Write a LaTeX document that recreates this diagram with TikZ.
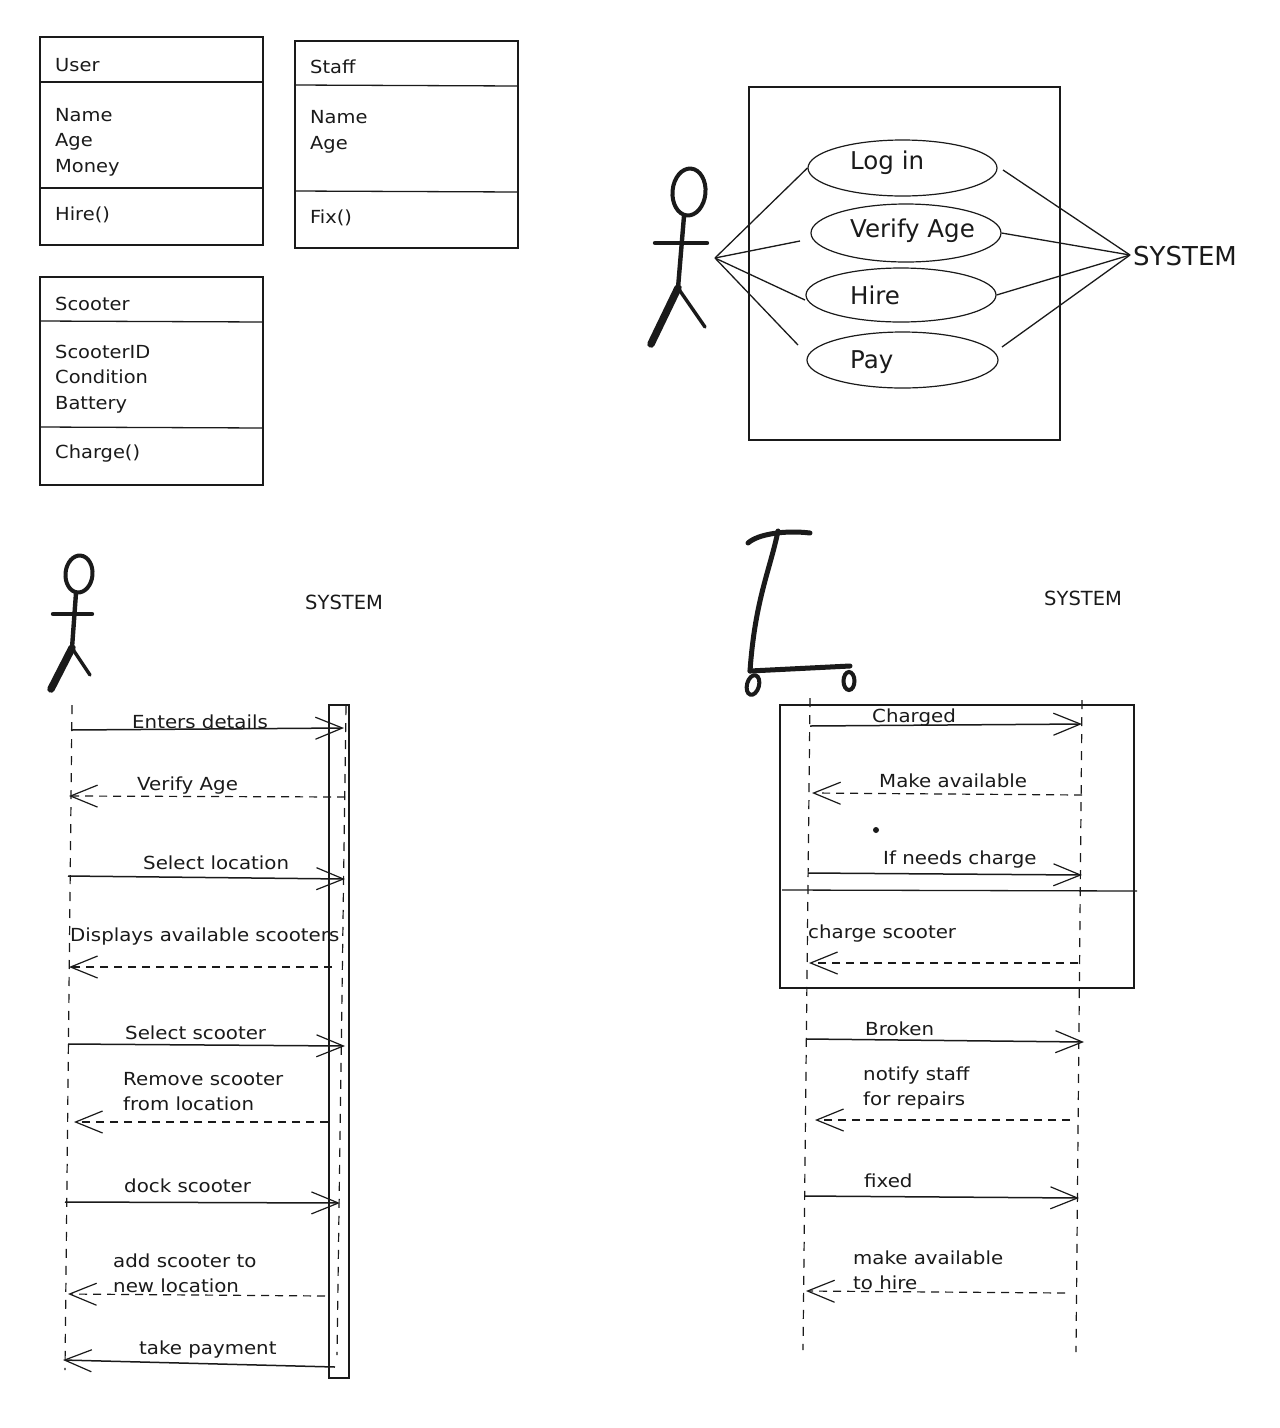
\documentclass[tikz,border=0pt]{standalone}
\usepackage{fontspec}
\setmainfont{DejaVu Sans}
\newfontfamily\lblfont[FakeStretch=1.1]{DejaVu Sans}
\newfontfamily\boxfont[FakeStretch=1.08]{DejaVu Sans}
\usetikzlibrary{shapes.geometric,arrows.meta}
\definecolor{ink}{HTML}{1A1A1A}
\newcommand{\fsz}[2]{\fontsize{#1}{#2}\selectfont}
\tikzset{
  frame/.style={draw=ink,line width=1.1pt,inner sep=0pt,minimum width=#1},
  divider/.style={draw=ink,line width=1.3pt},
  usecase/.style={draw=ink,line width=1.2pt,ellipse,inner sep=0pt},
  assoc/.style={draw=ink,line width=1.3pt},
  stick/.style={draw=ink,line width=4.4pt,line cap=round,line join=round},
  stickthin/.style={draw=ink,line width=3.4pt,line cap=round},
  stickthick/.style={draw=ink,line width=7.5pt,line cap=round},
  lifeline/.style={draw=ink,line width=1.2pt,dash pattern=on 9pt off 8pt},
  msg/.style={draw=ink,line width=1.5pt,-{Straight Barb[length=27pt,width=22pt,line width=1.2pt]}},
  reply/.style={draw=ink,line width=1.2pt,-{Straight Barb[length=27pt,width=22pt,line width=1.2pt]},dash pattern=on 8pt off 6pt},
  lbl/.style={anchor=west,inner sep=0pt,text=ink,font=\lblfont\fsz{18}{25},align=left},
  boxtxt/.style={anchor=west,inner sep=0pt,text=ink,font=\boxfont\fsz{18}{25.5},align=left},
  uctxt/.style={anchor=west,inner sep=0pt,text=ink,font=\fsz{24.5}{28}},
  systxt/.style={inner sep=0pt,text=ink,font=\fsz{19.5}{22}},
  headshape/.style={draw=ink,line width=4pt,ellipse,inner sep=0pt},
}
\begin{document}
\begin{tikzpicture}[x=1pt,y=-1pt]
\useasboundingbox (0,0) rectangle (1280,1428);
\fill[white] (0,0) rectangle (1280,1428);

% --- class boxes
\node[frame=223pt,minimum height=208pt] (user) at (151.5,141) {};
\draw[divider] (user.west |- 0,82) -- (user.east |- 0,82);
\draw[divider] (user.west |- 0,188) -- (user.east |- 0,188);
\node[boxtxt] (userT) at (55,65) {User};
\node[boxtxt] (userA) at (55,142) {Name\\Age\\Money};
\node[boxtxt] (userM) at (55,215) {Hire()};

\node[frame=223pt,minimum height=207pt] (staff) at (406.5,144.5) {};
\draw[divider] (staff.west |- 0,85) -- (staff.east |- 0,86);
\draw[divider] (staff.west |- 0,191) -- (staff.east |- 0,192);
\node[boxtxt] (staffT) at (310,67) {Staff};
\node[boxtxt] (staffA) at (310,132) {Name\\Age};
\node[boxtxt] (staffM) at (310,218) {Fix()};

\node[frame=223pt,minimum height=208pt] (scoot) at (151.5,381) {};
\draw[divider] (scoot.west |- 0,321) -- (scoot.east |- 0,322);
\draw[divider] (scoot.west |- 0,427) -- (scoot.east |- 0,428);
\node[boxtxt] (scootT) at (55,304) {Scooter};
\node[boxtxt] (scootA) at (55,379) {ScooterID\\Condition\\Battery};
\node[boxtxt] (scootM) at (55,454) {Charge()};

% --- use case diagram
\node[frame=311pt,minimum height=353pt] (sysbox) at (904.5,263.5) {};
\node[usecase,minimum width=189pt,minimum height=56pt] (login) at (902.5,168) {};
\node[usecase,minimum width=190pt,minimum height=58pt] (verify) at (906,233) {};
\node[usecase,minimum width=190pt,minimum height=54pt] (hire) at (901,295) {};
\node[usecase,minimum width=191pt,minimum height=56pt] (pay) at (902.5,360) {};
\node[uctxt] (loginT) at (850,163) {Log in};
\node[uctxt] (verifyT) at (850,231) {Verify Age};
\node[uctxt] (hireT) at (850,295) {Hire};
\node[uctxt] (payT) at (850,362) {Pay};
\node[inner sep=0pt,text=ink,font=\fsz{26}{30},anchor=west] (sysR) at (1133,256) {SYSTEM};

\coordinate (ucA) at (715,258);
\coordinate (ucS) at (1130,255);
\coordinate (verifyL) at (800,241);
\coordinate (hireL) at (805,300);
\coordinate (payL) at (798,345);
\coordinate (loginR) at (1003,170);
\coordinate (payR) at (1002,347);
\draw[assoc] (ucA) -- (login.west);
\draw[assoc] (ucA) -- (verifyL);
\draw[assoc] (ucA) -- (hireL);
\draw[assoc] (ucA) -- (payL);
\draw[assoc] (loginR) -- (ucS);
\draw[assoc] (verify.east) -- (ucS);
\draw[assoc] (hire.east) -- (ucS);
\draw[assoc] (payR) -- (ucS);

% actor (use case)
\node[headshape,minimum width=33pt,minimum height=47pt,rotate=-5] (h1) at (689,192) {};
\coordinate (h1n) at (684,216);
\coordinate (h1hip) at (678,288);
\coordinate (h1al) at (655,243);
\coordinate (h1ar) at (707,243);
\coordinate (h1ll) at (651,344);
\coordinate (h1lr) at (705,327);
\draw[stick] (h1n) -- (h1hip);
\draw[stick] (h1al) -- (h1ar);
\draw[stickthin] (h1hip) -- (h1lr);
\draw[stickthick] (h1hip) -- (h1ll);

% --- sequence 1
\node[headshape,minimum width=27pt,minimum height=37pt,rotate=-5] (h2) at (79,574) {};
\coordinate (h2n) at (76,593);
\coordinate (h2hip) at (72,648);
\coordinate (h2al) at (53,614);
\coordinate (h2ar) at (92,614);
\coordinate (h2ll) at (51,689);
\coordinate (h2lr) at (90,675);
\draw[stick] (h2n) -- (h2hip);
\draw[stick] (h2al) -- (h2ar);
\draw[stickthin] (h2hip) -- (h2lr);
\draw[stickthick] (h2hip) -- (h2ll);
\node[systxt,anchor=west] (sys1) at (305,602) {SYSTEM};

\node[frame=20pt,minimum height=673pt] (act) at (339,1041.5) {};
\coordinate (lAt) at (72,705);
\coordinate (lAb) at (65,1370);
\coordinate (lBt) at (346,706);
\coordinate (lBb) at (337,1355);
\draw[lifeline] (lAt) -- (lAb);
\draw[lifeline] (lBt) -- (lBb);

\coordinate (a1s) at (71,730);   \coordinate (a1e) at (344,728);
\coordinate (a2s) at (345,797);  \coordinate (a2e) at (69,796);
\coordinate (a3s) at (68,876);   \coordinate (a3e) at (345,879);
\coordinate (a4s) at (332,967);  \coordinate (a4e) at (69,967);
\coordinate (a5s) at (68,1044);  \coordinate (a5e) at (345,1046);
\coordinate (a6s) at (328,1122); \coordinate (a6e) at (74,1122);
\coordinate (a7s) at (65,1202);  \coordinate (a7e) at (340,1203);
\coordinate (a8s) at (325,1296); \coordinate (a8e) at (68,1294);
\coordinate (a9s) at (335,1367); \coordinate (a9e) at (63,1360);
\draw[msg] (a1s) -- (a1e);
\draw[reply] (a2s) -- (a2e);
\draw[msg] (a3s) -- (a3e);
\draw[reply] (a4s) -- (a4e);
\draw[msg] (a5s) -- (a5e);
\draw[reply] (a6s) -- (a6e);
\draw[msg] (a7s) -- (a7e);
\draw[reply] (a8s) -- (a8e);
\draw[msg] (a9s) -- (a9e);

\node[lbl] (t1) at (132,722) {Enters details};
\node[lbl] (t2) at (137,786) {Verify Age};
\node[lbl] (t3) at (143,863) {Select location};
\node[lbl] (t4) at (70,937) {Displays available scooters};
\node[lbl] (t5) at (125,1033) {Select scooter};
\node[lbl] (t6) at (123,1092) {Remove scooter\\from location};
\node[lbl] (t7) at (124,1186) {dock scooter};
\node[lbl] (t8) at (113,1273) {add scooter to\\new location};
\node[lbl] (t9) at (139,1350) {take payment};

% --- sequence 2
\coordinate (sk1) at (748,543);
\coordinate (sk2) at (778,531);
\coordinate (sk3) at (810,533);
\coordinate (sk4) at (750,671);
\coordinate (sk5) at (850,666);
\draw[stick,line width=5pt] (sk1) .. controls (758,534) and (785,530) .. (sk3);
\draw[stick,line width=5pt] (sk2) .. controls (770,570) and (755,600) .. (sk4);
\draw[stick,line width=5pt] (sk4) -- (sk5);
\node[headshape,minimum width=12pt,minimum height=20pt,rotate=-15] (wh1) at (753,685) {};
\node[headshape,minimum width=11pt,minimum height=18pt] (wh2) at (849,681) {};
\node[systxt,anchor=west] (sys2) at (1044,598) {SYSTEM};

\node[frame=354pt,minimum height=283pt] (frag) at (957,846.5) {};
\coordinate (fragL) at (782,890);
\coordinate (fragR) at (1137,891);
\draw[divider] (fragL) -- (fragR);
\coordinate (lCt) at (810,698);
\coordinate (lCb) at (803,1350);
\coordinate (lDt) at (1082,700);
\coordinate (lDb) at (1076,1352);
\draw[lifeline] (lCt) -- (lCb);
\draw[lifeline] (lDt) -- (lDb);

\coordinate (b1s) at (810,726);   \coordinate (b1e) at (1082,724);
\coordinate (b2s) at (1082,795);  \coordinate (b2e) at (812,793);
\coordinate (b3s) at (808,873);   \coordinate (b3e) at (1082,875);
\coordinate (b4s) at (1078,963);  \coordinate (b4e) at (809,963);
\coordinate (b5s) at (807,1039);  \coordinate (b5e) at (1084,1042);
\coordinate (b6s) at (1070,1120); \coordinate (b6e) at (815,1120);
\coordinate (b7s) at (804,1196);  \coordinate (b7e) at (1079,1198);
\coordinate (b8s) at (1065,1293); \coordinate (b8e) at (806,1291);
\draw[msg] (b1s) -- (b1e);
\draw[reply] (b2s) -- (b2e);
\draw[msg] (b3s) -- (b3e);
\draw[reply] (b4s) -- (b4e);
\draw[msg] (b5s) -- (b5e);
\draw[reply] (b6s) -- (b6e);
\draw[msg] (b7s) -- (b7e);
\draw[reply] (b8s) -- (b8e);
\node[circle,fill=ink,minimum size=6pt,inner sep=0pt] (dot) at (876,830) {};

\node[lbl] (u1) at (872,718) {Charged};
\node[lbl] (u2) at (879,781) {Make available};
\node[lbl] (u3) at (883,860) {If needs charge};
\node[lbl] (u4) at (808,934) {charge scooter};
\node[lbl] (u5) at (865,1029) {Broken};
\node[lbl] (u6) at (863,1088) {notify staff\\for repairs};
\node[lbl] (u7) at (864,1181) {fixed};
\node[lbl] (u8) at (853,1270) {make available\\to hire};
\end{tikzpicture}
\end{document}
